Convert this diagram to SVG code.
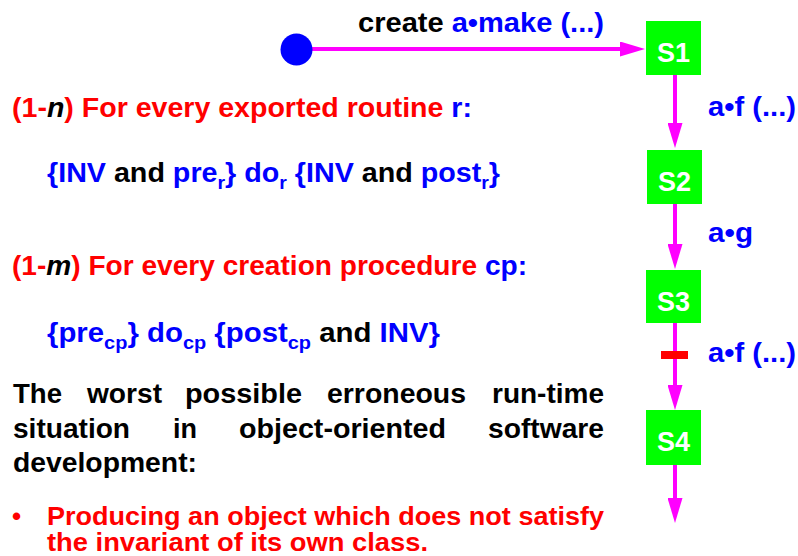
<svg xmlns="http://www.w3.org/2000/svg" width="798" height="556" viewBox="0 0 798 556">
<style>
text{font-family:"Liberation Sans",Arial,sans-serif;font-weight:bold;font-size:28px;}
.k{fill:#000}
.b{fill:#0000FF}
.r{fill:#FF0000}
.w{fill:#FFFFFF;font-size:27px}
.i{font-style:italic;fill:#000}
.sub{font-size:19px;}
.node{fill:#00FF00}
.conn{stroke:#FF00FF;stroke-width:4;fill:none}
.bl text{font-size:26px}
</style>
<defs>
<marker id="ah" markerUnits="userSpaceOnUse" markerWidth="25" markerHeight="15" refX="5" refY="7.5" orient="auto">
<path d="M0,0 L25,7.5 L0,15 z" fill="#FF00FF"/>
</marker>
</defs>
<rect width="798" height="556" fill="#FFFFFF"/>

<g id="connectors">
<line class="conn" x1="312" y1="49" x2="625" y2="49" marker-end="url(#ah)"/>
<line class="conn" x1="675" y1="75" x2="675" y2="128" marker-end="url(#ah)"/>
<line class="conn" x1="675" y1="204" x2="675" y2="249" marker-end="url(#ah)"/>
<line class="conn" x1="675" y1="323" x2="675" y2="390" marker-end="url(#ah)"/>
<line class="conn" x1="675" y1="465" x2="675" y2="503" marker-end="url(#ah)"/>
<rect x="661" y="351" width="27" height="8" fill="#FF0000"/>
<text x="358" y="32" textLength="246" lengthAdjust="spacingAndGlyphs"><tspan class="k">create </tspan><tspan class="b">a•make (...)</tspan></text>
<text class="b" x="708" y="116" textLength="88" lengthAdjust="spacingAndGlyphs">a•f (...)</text>
<text class="b" x="708" y="242" textLength="45" lengthAdjust="spacingAndGlyphs">a•g</text>
<text class="b" x="708" y="362" textLength="88" lengthAdjust="spacingAndGlyphs">a•f (...)</text>
</g>

<g id="start"><circle cx="296.5" cy="49.5" r="16" fill="#0000FF"/></g>
<g id="s1"><rect class="node" x="646" y="21" width="55" height="54"/><text class="w" x="673.5" y="62" text-anchor="middle">S1</text></g>
<g id="s2"><rect class="node" x="647" y="150" width="55" height="54"/><text class="w" x="674.5" y="191" text-anchor="middle">S2</text></g>
<g id="s3"><rect class="node" x="646" y="270" width="55" height="53"/><text class="w" x="673.5" y="311" text-anchor="middle">S3</text></g>
<g id="s4"><rect class="node" x="646" y="410" width="55" height="55"/><text class="w" x="673.5" y="451" text-anchor="middle">S4</text></g>

<g id="rules">
<text x="12" y="117" textLength="460" lengthAdjust="spacingAndGlyphs"><tspan class="r">(1-</tspan><tspan class="i">n</tspan><tspan class="r">) For every exported routine </tspan><tspan class="b">r:</tspan></text>
<text x="47" y="182" textLength="453" lengthAdjust="spacingAndGlyphs"><tspan class="b">{INV</tspan><tspan class="k"> and </tspan><tspan class="b">pre</tspan><tspan class="b sub" dy="7">r</tspan><tspan class="b" dy="-7">} do</tspan><tspan class="b sub" dy="7">r</tspan><tspan class="b" dy="-7"> {INV</tspan><tspan class="k"> and </tspan><tspan class="b">post</tspan><tspan class="b sub" dy="7">r</tspan><tspan class="b" dy="-7">}</tspan></text>
<text x="12" y="275" textLength="515" lengthAdjust="spacingAndGlyphs"><tspan class="r">(1-</tspan><tspan class="i">m</tspan><tspan class="r">) For every creation procedure </tspan><tspan class="b">cp:</tspan></text>
<text x="47" y="342" textLength="393" lengthAdjust="spacingAndGlyphs"><tspan class="b">{pre</tspan><tspan class="b sub" dy="7">cp</tspan><tspan class="b" dy="-7">} do</tspan><tspan class="b sub" dy="7">cp</tspan><tspan class="b" dy="-7"> {post</tspan><tspan class="b sub" dy="7">cp</tspan><tspan class="k" dy="-7"> and </tspan><tspan class="b">INV}</tspan></text>
</g>

<g id="statement" class="k">
<text x="13" y="403" textLength="49" lengthAdjust="spacingAndGlyphs">The</text>
<text x="87" y="403" textLength="75" lengthAdjust="spacingAndGlyphs">worst</text>
<text x="185" y="403" textLength="117" lengthAdjust="spacingAndGlyphs">possible</text>
<text x="327" y="403" textLength="139" lengthAdjust="spacingAndGlyphs">erroneous</text>
<text x="492" y="403" textLength="112" lengthAdjust="spacingAndGlyphs">run-time</text>
<text x="13" y="438" textLength="117" lengthAdjust="spacingAndGlyphs">situation</text>
<text x="173" y="438" textLength="24" lengthAdjust="spacingAndGlyphs">in</text>
<text x="239" y="438" textLength="207" lengthAdjust="spacingAndGlyphs">object-oriented</text>
<text x="488" y="438" textLength="116" lengthAdjust="spacingAndGlyphs">software</text>
<text x="13" y="472" textLength="184" lengthAdjust="spacingAndGlyphs">development:</text>
</g>

<g id="bullet" class="r bl">
<text x="12" y="525">•</text>
<text x="47" y="525" textLength="557" lengthAdjust="spacingAndGlyphs">Producing an object which does not satisfy</text>
<text x="47" y="551" textLength="381" lengthAdjust="spacingAndGlyphs">the invariant of its own class.</text>
</g>
</svg>
